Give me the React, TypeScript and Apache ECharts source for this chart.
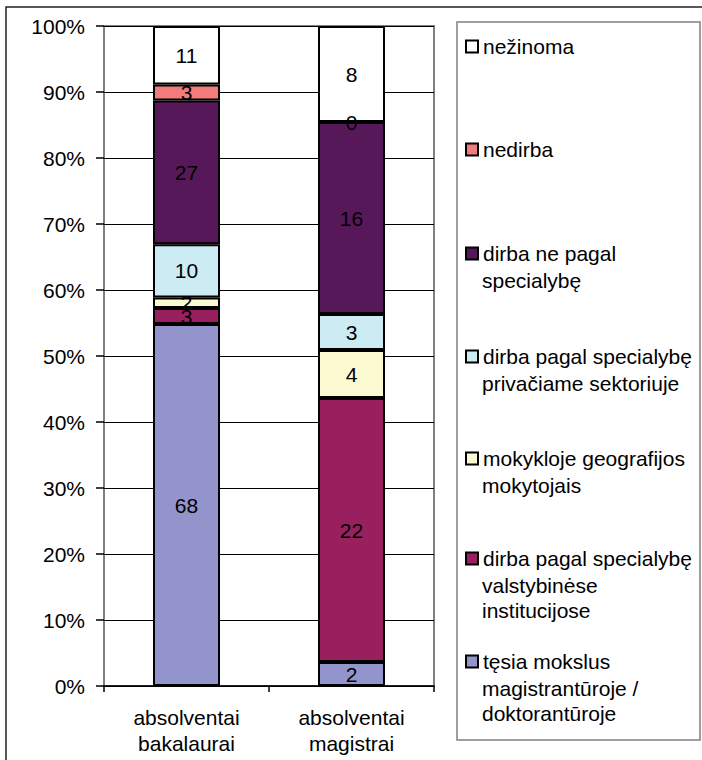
import React, { useEffect, useRef } from "react";
import * as echarts from "echarts";

const categories = ["absolventai\nbakalaurai", "absolventai\nmagistrai"];

const seriesNames = [
  "tęsia mokslus magistrantūroje / doktorantūroje",
  "dirba pagal specialybę valstybinėse institucijose",
  "mokykloje geografijos mokytojais",
  "dirba pagal specialybę privačiame sektoriuje",
  "dirba ne pagal specialybę",
  "nedirba",
  "nežinoma",
];

const legendLabels = [
  "tęsia mokslus\nmagistrantūroje /\ndoktorantūroje",
  "dirba pagal specialybę\nvalstybinėse\ninstitucijose",
  "mokykloje geografijos\nmokytojais",
  "dirba pagal specialybę\nprivačiame sektoriuje",
  "dirba ne pagal\nspecialybę",
  "nedirba",
  "nežinoma",
];

// counts per series: [bakalaurai, magistrai]
const tesiaMokslus = [68, 2];
const valstybinese = [3, 22];
const mokytojais = [2, 4];
const privaciame = [10, 3];
const nePagal = [27, 16];
const nedirba = [3, 0];
const nezinoma = [11, 8];

const counts = [tesiaMokslus, valstybinese, mokytojais, privaciame, nePagal, nedirba, nezinoma];

const colors = ["#9494CC", "#98205E", "#FCFAD0", "#CDEBF2", "#561858", "#F07C7C", "#FFFFFF"];

// first-line centre of each legend entry (same order as series)
const legendCenters = [663, 560, 460, 358, 255, 151, 48];

const FONT = "'Liberation Sans', Arial, sans-serif";
const FS = 21;

export default function App() {
  const ref = useRef<HTMLDivElement>(null);
  useEffect(() => {
    if (!ref.current) return;
    const chart = echarts.init(ref.current, null, { renderer: "svg" });
    const totals = categories.map((_, i) => counts.reduce((s, arr) => s + arr[i], 0));
    const L = 25;
    const series = seriesNames.map((name, k) => ({
      name,
      type: "bar",
      stack: "total",
      barWidth: 67,
      data: counts[k].map((v, i) => (v / totals[i]) * 100),
      itemStyle: { color: colors[k], borderColor: "#000", borderWidth: 2 },
      label: {
        show: true,
        position: "inside",
        color: "#000",
        fontSize: FS,
        fontFamily: FONT,
        formatter: (p: any) => String(counts[k][p.dataIndex]),
      },
    }));
    const legends = seriesNames.map((name, k) => ({
      show: true,
      orient: "vertical",
      left: 465,
      top: legendCenters[k] - 12,
      padding: 0,
      icon: "rect",
      itemWidth: 12,
      itemHeight: 12,
      itemGap: 0,
      selectedMode: false,
      data: [name],
      formatter: () => legendLabels[k].split("\n")[0],
      textStyle: { fontSize: FS, fontFamily: FONT, color: "#000" },
    }));
    const extraLines: any[] = [];
    legendLabels.forEach((lbl, k) => {
      lbl.split("\n").slice(1).forEach((line, j) => {
        extraLines.push({
          type: "text",
          x: 482,
          y: legendCenters[k] + (j + 1) * L,
          silent: true,
          style: {
            text: line,
            fontSize: FS,
            fontFamily: FONT,
            fill: "#000",
            verticalAlign: "middle",
            align: "left",
          },
        });
      });
    });
    chart.setOption({
      animation: false,
      backgroundColor: "#fff",
      grid: {
        left: 104,
        right: 268,
        top: 26,
        bottom: 74,
        show: true,
        borderColor: "#808080",
        borderWidth: 2,
        containLabel: false,
      },
      legend: legends,
      xAxis: {
        type: "category",
        data: categories,
        axisLine: { show: true, lineStyle: { color: "#000", width: 1.5 } },
        axisTick: { show: true, length: 6, lineStyle: { color: "#000", width: 1.5 } },
        axisLabel: {
          color: "#000",
          fontSize: FS,
          fontFamily: FONT,
          lineHeight: 26,
          margin: 18,
        },
      },
      yAxis: {
        type: "value",
        min: 0,
        max: 100,
        interval: 10,
        axisLine: { show: false },
        axisTick: { show: true, length: 8, lineStyle: { color: "#000", width: 1.5 } },
        splitLine: { show: true, lineStyle: { color: "#000", width: 1 } },
        axisLabel: {
          color: "#000",
          fontSize: FS,
          fontFamily: FONT,
          margin: 19,
          formatter: "{value}%",
        },
      },
      graphic: [
        {
          type: "rect",
          shape: { x: 6, y: 7, width: 800, height: 800 },
          style: { fill: "none", stroke: "#222", lineWidth: 1.5 },
          silent: true,
        },
        {
          type: "rect",
          shape: { x: 457, y: 22, width: 243, height: 718 },
          style: { fill: "none", stroke: "#808080", lineWidth: 1.5 },
          silent: true,
        },
        ...extraLines,
      ],
      series,
    });
    return () => chart.dispose();
  }, []);
  return (
    <div
      ref={ref}
      style={{ position: "absolute", left: 0, top: 0, width: 702, height: 760 }}
    />
  );
}
